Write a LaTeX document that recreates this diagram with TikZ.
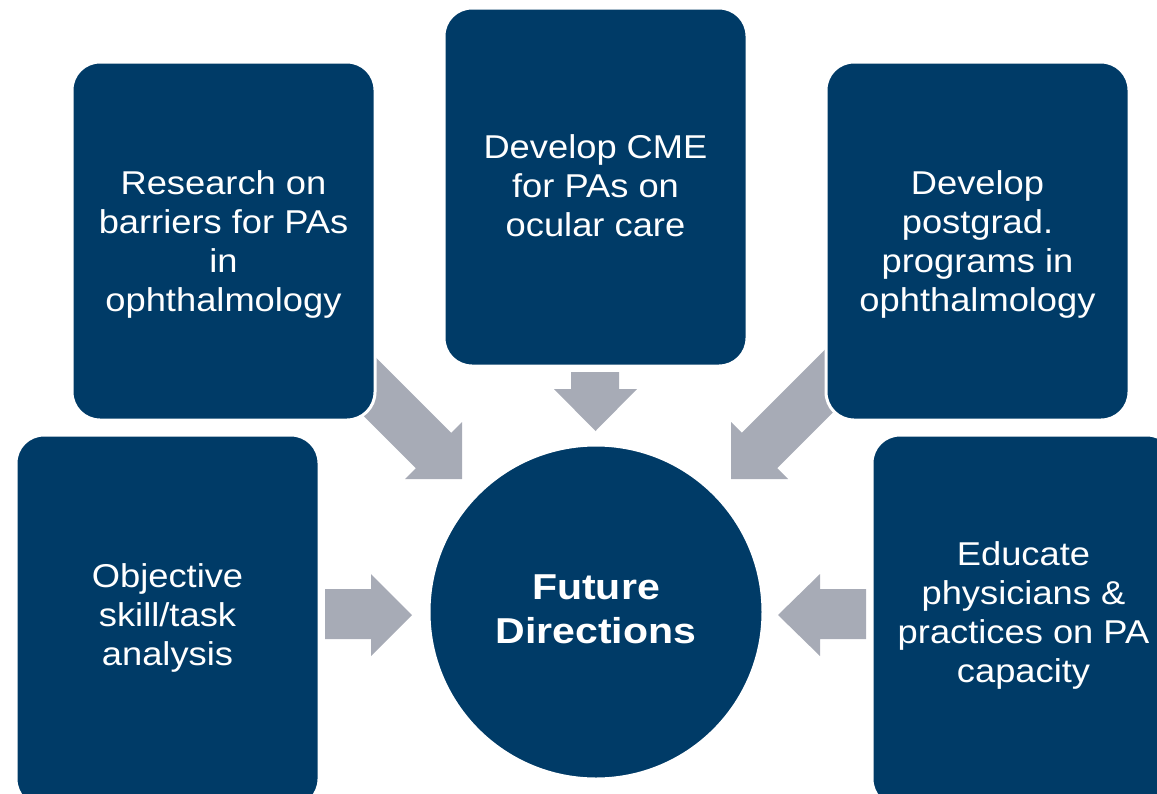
\documentclass[tikz,border=0pt]{standalone}
\usepackage{fontspec}
\setmainfont{Liberation Sans}[FakeStretch=1.1]
\newfontfamily\ctrfont{Liberation Sans}[FakeStretch=1.14]
\definecolor{navy}{RGB}{0,59,103}
\definecolor{arrowgray}{RGB}{167,171,182}
\begin{document}
\begin{tikzpicture}[x=1pt,y=-1pt,
  box/.style={draw=white, line width=3pt, fill=navy, rounded corners=28pt,
    minimum width=303pt, minimum height=358pt, inner sep=0pt},
  hub/.style={circle, draw=white, line width=3pt, fill=navy,
    minimum size=334pt, inner sep=0pt},
  arr/.style={fill=arrowgray},
  lbl/.style={text=white, anchor=base, inner sep=0pt,
    font=\fontsize{33}{39}\selectfont},
  hublbl/.style={text=white, anchor=base, inner sep=0pt,
    font=\ctrfont\bfseries\fontsize{36}{44}\selectfont}]
\useasboundingbox (0,0) rectangle (1157,793);
\clip (0,0) rectangle (1157,793);

% block arrows (drawn first, boxes cover the tails)
\fill[arr] (359.7,341.3) -- (451.2,432.8) -- (462,422) -- (462,479) -- (405,479) -- (415.8,468.2) -- (324.3,376.7) -- cycle;
\fill[arr] (833.3,341.3) -- (741.8,432.8) -- (731,422) -- (731,479) -- (788,479) -- (777.2,468.2) -- (868.7,376.7) -- cycle;
\fill[arr] (571,372) -- (619,372) -- (619,389) -- (637,389) -- (595.5,431) -- (554,389) -- (571,389) -- cycle;
\fill[arr] (325,589) -- (371,589) -- (371,574) -- (412,615) -- (371,656) -- (371,639) -- (325,639) -- cycle;
\fill[arr] (866,589) -- (820,589) -- (820,574) -- (778,615) -- (820,656) -- (820,639) -- (866,639) -- cycle;

% boxes
\node[box] (tl) at (223.5,241) {};
\node[box] (tc) at (595.5,187) {};
\node[box] (tr) at (977.5,241) {};
\node[box, minimum height=372pt] (bl) at (167.5,621) {};
\node[box, minimum height=372pt] (br) at (1023.5,621) {};
\node[hub] (fd) at (596,612) {};

% labels
\node[lbl] (tltext) at (223.5,194) {\parbox[t]{300pt}{\centering Research on\\barriers for PAs\\in\\ophthalmology}};
\node[lbl] (tctext) at (595.5,158) {\parbox[t]{300pt}{\centering Develop CME\\for PAs on\\ocular care}};
\node[lbl] (trtext) at (977.5,194) {\parbox[t]{300pt}{\centering Develop\\postgrad.\\programs in\\ophthalmology}};
\node[lbl] (bltext) at (167.5,587) {\parbox[t]{300pt}{\centering Objective\\skill/task\\analysis}};
\node[lbl] (brtext) at (1023.5,565) {\parbox[t]{300pt}{\centering Educate\\physicians \&\\practices on PA\\capacity}};
\node[hublbl] (fdtext) at (596,599) {\parbox[t]{300pt}{\centering Future\\Directions}};
\end{tikzpicture}
\end{document}
